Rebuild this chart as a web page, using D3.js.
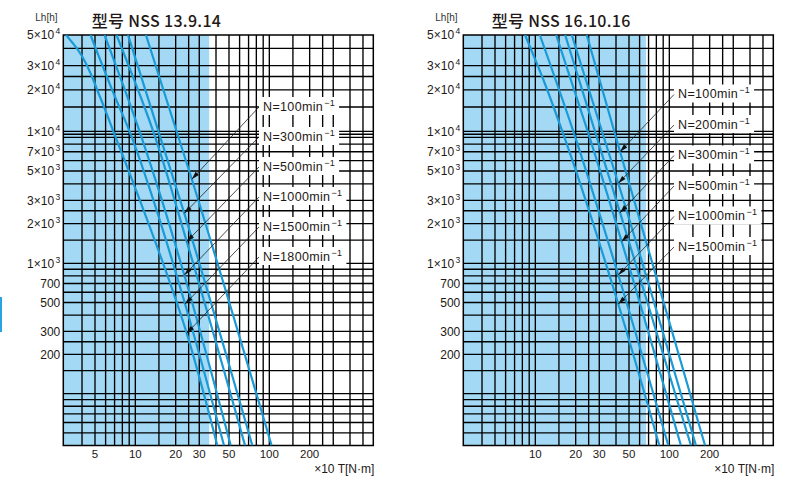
<!DOCTYPE html>
<html><head><meta charset="utf-8">
<script src="https://cdn.jsdelivr.net/npm/d3@7"></script>
<style>body{margin:0;background:#fff;} svg{display:block}</style>
</head><body>
<svg id="chart" width="793" height="492"></svg>
<script>
// ---------------- data ----------------
const xGridValues = [4,5,6,7,8,9,10,15,20,25,30,40,50,60,70,80,90,100,150,200,250,300,400,500];
const yGridValues = [50,60,70,80,90,100,150,200,250,300,400,500,600,700,800,900,1000,1500,2000,2500,3000,4000,5000,6000,7000,8000,9000,9500,10000,15000,20000,25000,30000,40000];
const yTickValues = [50000,30000,20000,10000,7000,5000,3000,2000,1000,700,500,300,200];
const xTickLabelsLeft = [5,10,20,30,50,100,200];
const xTickLabelsRight = [10,20,30,50,100,200];

const leftTitle = "型号 NSS 13.9.14";
const rightTitle = "型号 NSS 16.10.16";
const leftSpeeds = [100,300,500,1000,1500,1800];
const rightSpeeds = [100,200,300,500,1000,1500];
const leftSafeMax = 35.6;   // end of shaded region, T
const rightSafeMax = 67;

// life curves [T (x10 N·m), Lh (h)]
const leftN100  = [[12.0,50000],[26.4,4330],[104,40]];
const leftN300  = [[8.82,50000],[23.2,2390],[74.7,40]];
const leftN500  = [[7.24,50000],[13.6,10000],[24.2,1460],[65.9,40]];
const leftN1000 = [[5.89,50000],[10.75,10000],[15.8,3000],[23.2,813],[51.5,40]];
const leftN1500 = [[4.63,50000],[7.06,17750],[9.05,10000],[13.65,3000],[23.5,487],[45.9,40]];
const leftN1800 = [[3.04,50000],[3.74,38900],[5.45,17750],[6.85,10000],[8.87,5090],[24.2,290],[40.9,40]];
const leftTips  = [[26.4,4330],[23.2,2390],[24.2,1460],[23.2,813],[23.5,487],[24.2,290]];

const rightN100  = [[24.2,50000],[42.9,7000],[184.7,40]];
const rightN200  = [[18.7,50000],[41.6,4040],[158,40]];
const rightN300  = [[16.7,50000],[42.9,2420],[145,40]];
const rightN500  = [[14.3,50000],[24.6,10000],[44.1,1460],[122,40]];
const rightN1000 = [[10.8,50000],[19.2,10000],[41.6,813],[98.3,40]];
const rightN1500 = [[8.38,50000],[11.5,23570],[15.9,10000],[41.6,487],[84.2,40]];
const rightTips  = [[42.9,7000],[41.6,4040],[42.9,2420],[44.1,1460],[41.6,813],[41.6,487]];

// ---------------- styles ----------------
const BLUE_FILL = "#a3d9f4";
const CURVE = "#1a9bd8";
const INK = "#231815";
const NUMFONT = "'Liberation Sans', Arial, sans-serif";

const svg = d3.select("#chart");

// small blue marker on left edge
svg.append("rect").attr("x",0).attr("y",297).attr("width",2).attr("height",35).attr("fill","#2aa3e3");

const panels = [
  {x0:63.3, title:leftTitle, curves:[leftN100,leftN300,leftN500,leftN1000,leftN1500,leftN1800],
   tips:leftTips, speeds:leftSpeeds, safe:leftSafeMax, xt:xTickLabelsLeft, labX:263, labY0:106, labDy:30, id:"L"},
  {x0:463.3, title:rightTitle, curves:[rightN100,rightN200,rightN300,rightN500,rightN1000,rightN1500],
   tips:rightTips, speeds:rightSpeeds, safe:rightSafeMax, xt:xTickLabelsRight, labX:678, labY0:93.5, labDy:30.5, id:"R"}
];

panels.forEach(p => {
  const x = d3.scaleLog().domain([2.9, 597]).range([p.x0, p.x0 + 310]);
  const y = d3.scaleLog().domain([40, 1000, 10000, 50000]).range([445.5, 263.3, 131.3, 35]);
  const [x0, x1] = x.range();
  const yTop = y(50000), yBot = y(40);
  const g = svg.append("g");

  g.append("clipPath").attr("id","clip"+p.id).append("rect")
    .attr("x",x0).attr("y",yTop).attr("width",x1-x0).attr("height",yBot-yTop);

  // shaded region
  g.append("rect").attr("x",x0).attr("y",yTop).attr("width",x(p.safe)-x0).attr("height",yBot-yTop)
    .attr("fill",BLUE_FILL);

  // grid
  g.append("g").selectAll("line").data(xGridValues).join("line")
    .attr("x1",d=>x(d)).attr("x2",d=>x(d)).attr("y1",yTop).attr("y2",yBot)
    .attr("stroke","#000").attr("stroke-width",1.35);
  g.append("g").selectAll("line").data(yGridValues).join("line")
    .attr("x1",x0).attr("x2",x1).attr("y1",d=>y(d)).attr("y2",d=>y(d))
    .attr("stroke","#000").attr("stroke-width",1.35);
  g.append("rect").attr("x",x0).attr("y",yTop).attr("width",x1-x0).attr("height",yBot-yTop)
    .attr("fill","none").attr("stroke","#000").attr("stroke-width",1.5);

  // curves
  const line = d3.line().x(d=>x(d[0])).y(d=>y(d[1])).curve(d3.curveMonotoneY);
  g.append("g").attr("clip-path","url(#clip"+p.id+")").selectAll("path").data(p.curves).join("path")
    .attr("d",line).attr("fill","none").attr("stroke",CURVE).attr("stroke-width",2.2);

  // y tick labels
  const yl = g.append("g").attr("font-family",NUMFONT).attr("fill",INK).attr("font-size",12);
  yTickValues.forEach(v => {
    const t = yl.append("text").attr("x",x0-3).attr("y",y(v)).attr("dy","0.36em").attr("text-anchor","end");
    if (v >= 1000) {
      const e = Math.floor(Math.log10(v) + 1e-9);
      const m = Math.round(v / Math.pow(10,e));
      t.append("tspan").text(m + "×10");
      t.append("tspan").attr("font-size",8.5).attr("dx",1.5).attr("dy",-5).text(e);
    } else {
      t.text(v);
    }
  });

  // x tick labels
  g.append("g").attr("font-family",NUMFONT).attr("fill",INK).attr("font-size",11.5)
    .selectAll("text").data(p.xt).join("text")
    .attr("x",d=>x(d)).attr("y",yBot+8).attr("dy","0.36em").attr("text-anchor","middle").text(d=>d);

  g.append("text").attr("x",x1+1).attr("y",469).attr("dy","0.36em").attr("text-anchor","end")
    .attr("font-family",NUMFONT).attr("font-size",12).attr("fill",INK).text("×10 T[N·m]");

  // axis name & title
  g.append("text").attr("x",x0-28).attr("y",17).attr("dy","0.36em")
    .attr("font-family",NUMFONT).attr("font-size",10).attr("fill","#333").text("Lh[h]");
  g.append("text").attr("x",x0+28.5).attr("y",21).attr("dy","0.36em")
    .attr("font-family","'Noto Sans CJK SC','Noto Sans',sans-serif").attr("font-weight",500)
    .attr("font-size",16).attr("letter-spacing",0.3).attr("fill",INK).text(p.title);

  // speed labels with leaders
  const lg = g.append("g");
  p.speeds.forEach((n,i) => {
    const yc = p.labY0 + i*p.labDy;
    const box = lg.append("rect").attr("fill","#fff");
    const t = lg.append("text").attr("x",p.labX).attr("y",yc).attr("dy","0.36em")
      .attr("font-family",NUMFONT).attr("font-size",12.5).attr("letter-spacing",0.35).attr("fill",INK);
    t.append("tspan").text("N=" + n + "min");
    t.append("tspan").attr("font-size",9).attr("dx",1).attr("dy",-5).text("−1");
    const bb = t.node().getBBox();
    box.attr("x",bb.x-4).attr("y",yc-9).attr("width",bb.width+8).attr("height",18);

    const sx = bb.x-4, sy = yc+1;
    const tx = x(p.tips[i][0]), ty = y(p.tips[i][1]);
    lg.append("line").attr("x1",sx).attr("y1",sy).attr("x2",tx).attr("y2",ty)
      .attr("stroke","#222").attr("stroke-width",0.8);
    const dx = tx-sx, dy = ty-sy, len = Math.hypot(dx,dy), ux = dx/len, uy = dy/len;
    const bx = tx-ux*8, by = ty-uy*8;
    lg.append("path").attr("d",`M${tx},${ty}L${bx-uy*2.3},${by+ux*2.3}L${bx+uy*2.3},${by-ux*2.3}Z`).attr("fill","#111");
  });
});
</script>
</body></html>
